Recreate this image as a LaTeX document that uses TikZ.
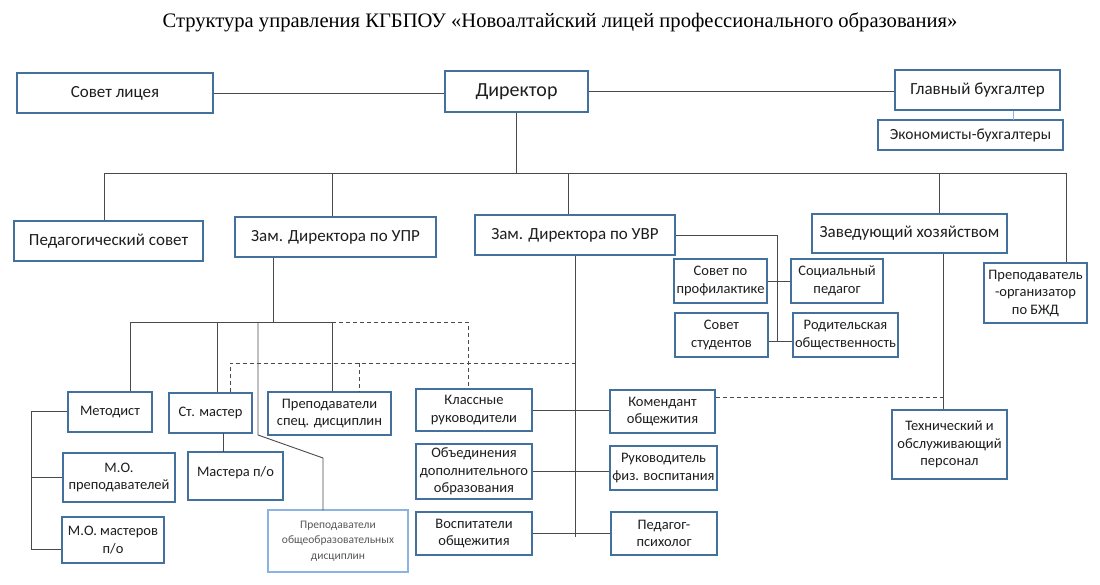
\documentclass[tikz,border=0pt]{standalone}
\usepackage{fontspec}
\setmainfont{Carlito}
\newfontfamily\titlefont{Liberation Serif}
\definecolor{boxblue}{HTML}{41719C}
\definecolor{lightblue}{HTML}{8DB3E2}
\definecolor{linegray}{HTML}{4A4A4A}
\definecolor{textgray}{HTML}{1E1E1E}
\begin{document}
\begin{tikzpicture}[x=1pt,y=-1pt]
    \tikzset{box/.style={rectangle, draw=boxblue, line width=1.1pt, fill=white, text=textgray, inner sep=1pt, align=center, font=\fontsize{14.5}{17.5}\selectfont}}
    \tikzset{bigbox/.style={box, font=\fontsize{17}{20}\selectfont}}
    \tikzset{line/.style={draw=linegray, line width=0.9pt}}
    \tikzset{dashline/.style={line, dash pattern=on 4pt off 3pt}}
    \useasboundingbox (0,0) rectangle (1100,585);

    \node[font=\titlefont\fontsize{20.6}{24}\selectfont] (title) at (560,22) {Структура управления КГБПОУ «Новоалтайский лицей профессионального образования»};

    \node[bigbox, minimum width=196, minimum height=40] (sovet) at (115,93) {Совет лицея};
    \node[box, font=\fontsize{20}{24}\selectfont, minimum width=143, minimum height=41] (dir) at (516.5,91.5) {Директор};
    \node[bigbox, minimum width=165, minimum height=40] (glbuh) at (977.5,90) {Главный бухгалтер};
    \node[box, font=\fontsize{15.5}{18}\selectfont, minimum width=185, minimum height=30] (econ) at (970.5,135) {Экономисты-бухгалтеры};

    \node[bigbox, minimum width=189, minimum height=40] (pedsov) at (108.5,241) {Педагогический совет};
    \node[bigbox, minimum width=201, minimum height=40] (upr) at (335.5,237) {Зам. Директора по УПР};
    \node[bigbox, minimum width=200, minimum height=40] (uvr) at (575,235) {Зам. Директора по УВР};
    \node[bigbox, minimum width=195, minimum height=39] (zav) at (909.5,233.5) {Заведующий хозяйством};
    \node[box, minimum width=103, minimum height=60] (bzd) at (1035.5,293) {Преподаватель\\-организатор\\по БЖД};

    \node[box, minimum width=93, minimum height=44] (profil) at (720.5,281) {Совет по\\профилактике};
    \node[box, minimum width=92, minimum height=44] (socped) at (837,281) {Социальный\\педагог};
    \node[box, minimum width=93, minimum height=44] (sovstud) at (721.5,335) {Совет\\студентов};
    \node[box, minimum width=105, minimum height=44] (rodit) at (845.5,335) {Родительская\\общественность};
    \node[box, minimum width=115, minimum height=69] (tech) at (949.5,444.5) {Технический и\\обслуживающий\\персонал};

    \node[box, minimum width=116, minimum height=42] (klass) at (474,410) {Классные\\руководители};
    \node[box, minimum width=105, minimum height=43] (koment) at (662.5,411.5) {Комендант\\общежития};
    \node[box, minimum width=116, minimum height=55] (obed) at (474,471.5) {Объединения\\дополнительного\\образования};
    \node[box, minimum width=107, minimum height=44] (fiz) at (663.5,468) {Руководитель\\физ. воспитания};
    \node[box, minimum width=116, minimum height=43] (vosp) at (474,533.5) {Воспитатели\\общежития};
    \node[box, minimum width=106, minimum height=43] (psych) at (664,533.5) {Педагог-\\психолог};

    \node[box, minimum width=84, minimum height=40] (metod) at (110,412) {Методист};
    \node[box, minimum width=112, minimum height=49] (mop) at (119,477.5) {М.О.\\преподавателей};
    \node[box, minimum width=102, minimum height=46] (mom) at (113,540) {М.О. мастеров\\п/о};
    \node[box, minimum width=83, minimum height=40] (stm) at (210.5,413) {Ст. мастер};
    \node[box, minimum width=123, minimum height=43] (spec) at (329.5,413.5) {Преподаватели\\спец. дисциплин};
    \node[box, minimum width=95, minimum height=48, text depth=9pt] (mast) at (235.5,476) {Мастера п/о};
    \node[box, draw=lightblue, text=black!65, font=\fontsize{11.5}{15.5}\selectfont, minimum width=140, minimum height=62] (obsh) at (338,541) {Преподаватели\\общеобразовательных\\дисциплин};

    \coordinate (busL) at (104,173);
    \coordinate (busR) at (1066,173);
    \coordinate (bupr) at (332,173);
    \coordinate (buvr) at (568,173);
    \coordinate (bzav) at (939,173);
    \coordinate (ebuh) at (1013,120);
    \coordinate (uvrk) at (777,341);
    \coordinate (uvrb) at (575,537);
    \coordinate (tz) at (943,397);
    \coordinate (sb) at (273,322);
    \coordinate (sbL) at (130,322);
    \coordinate (sbR) at (332,322);
    \coordinate (sbm) at (217,322);
    \coordinate (sbo) at (258,322);
    \coordinate (dk) at (468,322);
    \coordinate (d2L) at (230,363);
    \coordinate (d2s) at (359,363);
    \coordinate (lb) at (31,411);

    \draw[line] (sovet.east) -- (sovet.east -| dir.west);
    \draw[line] (dir.east) -- (dir.east -| glbuh.west);
    \draw[draw=lightblue, line width=0.9pt] (ebuh |- glbuh.south) -- (ebuh);
    \draw[line] (dir.south) -- (dir.south |- busL);
    \draw[line] (busL) -- (busR);
    \draw[line] (busL) -- (busL |- pedsov.north);
    \draw[line] (bupr) -- (bupr |- upr.north);
    \draw[line] (buvr) -- (buvr |- uvr.north);
    \draw[line] (bzav) -- (bzav |- zav.north);
    \draw[line] (busR) -- (busR |- bzd.north);

    \draw[line] (uvr.east) -| (uvrk);
    \draw[line] (profil.east) -- (socped.west);
    \draw[line] (sovstud.east |- uvrk) -- (rodit.west |- uvrk);
    \draw[line] (uvr.south) -- (uvrb);
    \draw[line] (klass.east) -- (klass.east -| koment.west);
    \draw[line] (obed.east) -- (obed.east -| fiz.west);
    \draw[line] (vosp.east) -- (vosp.east -| psych.west);

    \draw[line] (tz |- zav.south) -- (tz |- tech.north);
    \draw[dashline] (koment.east |- tz) -- (tz);

    \draw[line] (sb |- upr.south) -- (sb);
    \draw[line] (sbL) -- (sbR);
    \draw[line] (sbL) -- (sbL |- metod.north);
    \draw[line] (sbm) -- (sbm |- stm.north);
    \draw[line] (sbR) -- (sbR |- spec.north);
    \draw[line] (sbo) -- (258,435) -- (323,458) -- (323,510);
    \draw[dashline] (sbR) -- (dk) -- (dk |- klass.north);
    \draw[dashline] (d2L |- stm.north) -- (d2L) -- (uvrb |- d2L);
    \draw[dashline] (d2s) -- (d2s |- spec.north);
    \draw[line] (223,433) -- (223,452);

    \draw[line] (lb) -- (lb |- 0,549);
    \draw[line] (lb) -- (lb -| metod.west);
    \draw[line] (lb |- mop.west) -- (mop.west);
    \draw[line] (lb |- 0,549) -- (mom.west |- 0,549);
\end{tikzpicture}
\end{document}
